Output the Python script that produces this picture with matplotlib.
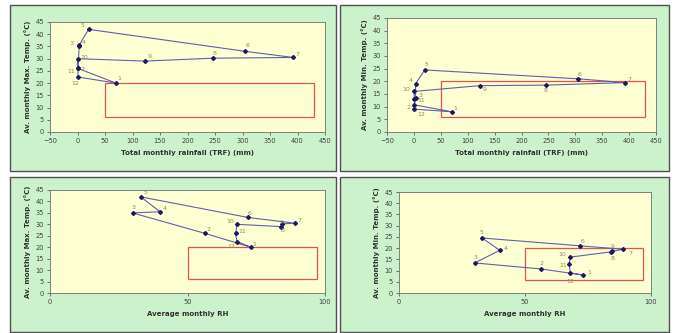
import matplotlib.pyplot as plt
from matplotlib.patches import Rectangle

# monthly climate values, months 1..12
months = [1, 2, 3, 4, 5, 6, 7, 8, 9, 10, 11, 12]
rainfall = [70, 1, 3, 3, 20, 305, 392, 246, 122, 0, 1, 1]
rh = [73, 56.5, 30, 40, 33, 72, 89, 84.5, 84, 68, 67.5, 68]
tmax = [20, 26, 35, 35.5, 42, 33, 30.5, 30.2, 29, 30, 26, 22.5]
tmin = [8, 10.7, 13.4, 19, 24.5, 21, 19.5, 18.5, 18.3, 16, 13, 9]

# comfort zone limits
zone_rain = (50, 430)
zone_rh = (50, 97)
zone_temp = (6, 20)

W, H = 676, 333
PANEL_BG = "#ccf2cc"
PLOT_BG = "#ffffd4"
LINE_C = "#6060aa"
MARK_C = "#1a1a60"
LABEL_C = "#8c8c50"
ZONE_C = "#e8504c"

fig = plt.figure(figsize=(W / 100, H / 100), dpi=100)


def fbox(x0, y0, x1, y1):
    return [x0 / W, 1 - y1 / H, (x1 - x0) / W, (y1 - y0) / H]


def panel(x0, y0, x1, y1):
    l, b, w, h = fbox(x0, y0, x1, y1)
    fig.patches.append(Rectangle((l, b), w, h, transform=fig.transFigure,
                                 facecolor=PANEL_BG, edgecolor="#505050",
                                 lw=1.0, zorder=-5))


def hythergraph(box, xs, ys, xlim, xticks, xlabel, ylabel, zone_x, offsets):
    ax = fig.add_axes(fbox(*box))
    ax.set_zorder(2)
    ax.set_facecolor(PLOT_BG)
    loop_x = xs + xs[:1]
    loop_y = ys + ys[:1]
    ax.plot(loop_x, loop_y, color=LINE_C, lw=0.8, zorder=3)
    ax.plot(xs, ys, ls="none", marker="D", ms=2.0, color=MARK_C, zorder=4)
    for m, x, y in zip(months, xs, ys):
        dx, dy = offsets.get(m, (2, 2))
        ax.annotate(str(m), (x, y), xytext=(dx, dy), textcoords="offset points",
                    fontsize=4.5, color=LABEL_C, zorder=5)
    ax.add_patch(Rectangle((zone_x[0], zone_temp[0]), zone_x[1] - zone_x[0],
                           zone_temp[1] - zone_temp[0], fill=False,
                           edgecolor=ZONE_C, lw=0.9, zorder=2))
    ax.set_xlim(*xlim)
    ax.set_ylim(0, 45)
    ax.set_xticks(xticks)
    ax.set_yticks(range(0, 50, 5))
    ax.tick_params(labelsize=4.8, length=2, width=0.5, pad=2.5, colors="#404040")
    for s in ax.spines.values():
        s.set_color("#808080")
        s.set_linewidth(0.7)
    ax.set_xlabel(xlabel, fontsize=5, fontweight="bold", color="#303030", labelpad=4)
    ax.set_ylabel(ylabel, fontsize=5, fontweight="bold", color="#303030", labelpad=3)
    return ax


panel(10, 5, 336, 171)
panel(340, 5, 669, 171)
panel(10, 177, 336, 332)
panel(340, 177, 669, 332)

rain_ticks = list(range(-50, 500, 50))
rh_ticks = [0, 50, 100]

hythergraph((50, 22, 325, 132), rainfall, tmax, (-50, 450), rain_ticks,
            "Total monthly rainfall (TRF) (mm)", "Av. monthly Max. Temp. (°C)",
            zone_rain,
            {1: (1, 2), 2: (2, -2), 3: (-7, 1), 4: (2, 1), 5: (-6, 2),
             6: (0, 3), 7: (2, 1), 8: (0, 2), 9: (2, 2), 10: (2, 0),
             11: (-8, -3), 12: (-5, -6)})

hythergraph((387, 18, 656, 132), rainfall, tmin, (-50, 450), rain_ticks,
            "Total monthly rainfall (TRF) (mm)", "Av. monthly Min. Temp. (°C)",
            zone_rain,
            {1: (1, 1), 2: (-6, -3), 3: (2, 1), 4: (-5, 1), 5: (0, 3),
             6: (0, 2), 7: (2, 1), 8: (-2, -5), 9: (2, -4), 10: (-8, 0),
             11: (2, -2), 12: (2, -5)})

hythergraph((50, 190, 325, 293), rh, tmax, (0, 100), rh_ticks,
            "Average monthly RH", "Av. monthly Max. Temp. (°C)",
            zone_rh,
            {1: (1, 1), 2: (1, 2), 3: (-1, 3), 4: (2, 1), 5: (2, 2),
             6: (0, 2), 7: (2, 1), 8: (-1, -6), 9: (-1, 2), 10: (-8, 1),
             11: (2, 0), 12: (-7, -5)})

hythergraph((399, 192, 651, 293), rh, tmin, (0, 100), rh_ticks,
            "Average monthly RH", "Av. monthly Min. Temp. (°C)",
            zone_rh,
            {1: (3, 1), 2: (-1, 3), 3: (-1, 3), 4: (3, 0), 5: (-2, 3),
             6: (0, 2), 7: (4, -4), 8: (-1, -6), 9: (0, 3), 10: (-9, 1),
             11: (-7, -2), 12: (-3, -7)})

fig.savefig("out.png", dpi=100)
